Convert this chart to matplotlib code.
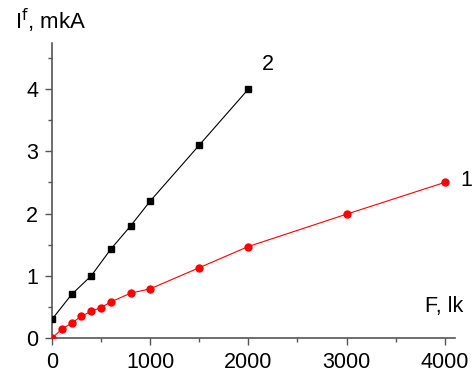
import numpy as np
import matplotlib
matplotlib.use("Agg")
from matplotlib import pyplot as plt
from matplotlib.ticker import MultipleLocator

plt.rcParams['font.family'] = ['Liberation Sans', 'DejaVu Sans']

# curve 1 (red circles)
f1 = [0, 100, 200, 300, 400, 500, 600, 800, 1000, 1500, 2000, 3000, 4000]
i1 = [0.0, 0.14, 0.24, 0.35, 0.43, 0.49, 0.58, 0.72, 0.79, 1.13, 1.47, 1.99, 2.5]

# curve 2 (black squares)
f2 = [0, 200, 400, 600, 800, 1000, 1500, 2000]
i2 = [0.3, 0.7, 1.0, 1.43, 1.8, 2.2, 3.1, 4.0]

fs = 15.5

fig = plt.figure(figsize=(4.76, 3.72), dpi=100)
ax = fig.add_axes([52/476, 34/372, 403/476, 295/372])

ax.plot(f2, i2, '-s', color='black', lw=0.8, ms=4.2, zorder=3)
ax.plot(f1, i1, '-o', color='red', lw=0.8, ms=5, zorder=3)

ax.set_xlim(0, 4104)
ax.set_ylim(0, 4.74)
ax.xaxis.set_major_locator(MultipleLocator(1000))
ax.xaxis.set_minor_locator(MultipleLocator(500))
ax.yaxis.set_major_locator(MultipleLocator(1))
ax.yaxis.set_minor_locator(MultipleLocator(0.5))

for s in ['top', 'right']:
    ax.spines[s].set_visible(False)
for s in ['left', 'bottom']:
    ax.spines[s].set_color('#555555')
    ax.spines[s].set_linewidth(1.2)

ax.tick_params(which='major', direction='out', length=5, width=1, colors='#555555',
               labelsize=fs, labelcolor='black', pad=5)
ax.tick_params(which='minor', direction='out', length=3, width=1, colors='#555555')

ax.text(2138, 4.30, '2', fontsize=fs)
ax.text(4155, 2.45, '1', fontsize=fs, clip_on=False)
ax.text(3800, 0.41, 'F, lk', fontsize=fs)
fig.text(15/476, 1 - 29/372, r'I$^{\rm f}$, mkA', fontsize=16)

fig.savefig('out.png', dpi=100)
